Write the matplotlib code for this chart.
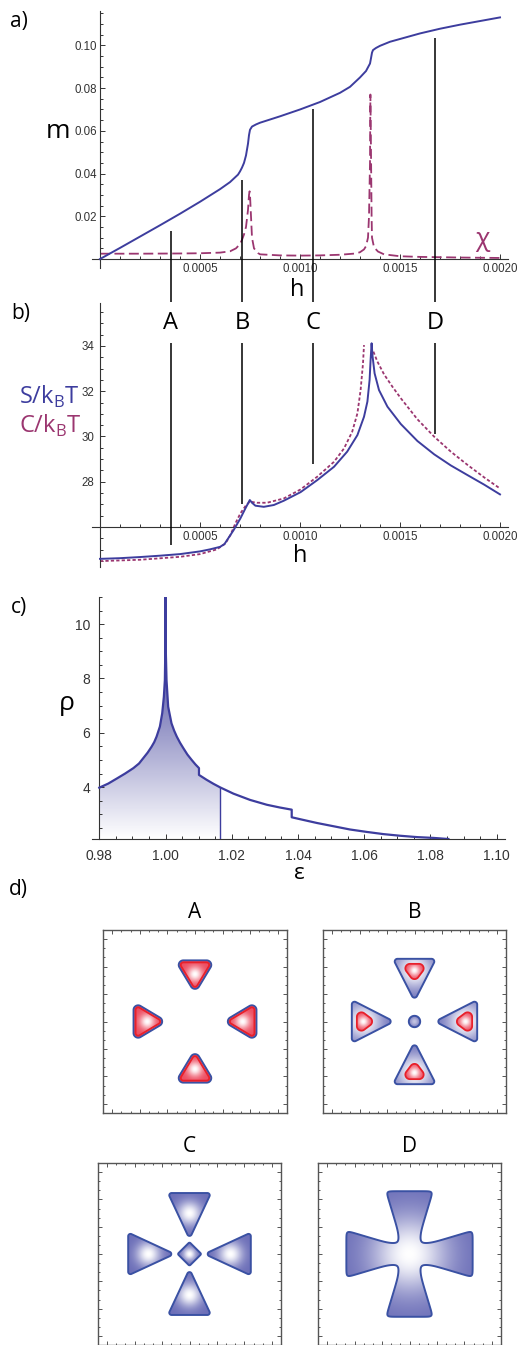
import numpy as np
import matplotlib
matplotlib.use("Agg")
from matplotlib import pyplot as plt
from matplotlib.ticker import MultipleLocator
from matplotlib.colors import LinearSegmentedColormap, Normalize

plt.rcParams['font.family'] = ['Liberation Sans', 'DejaVu Sans']
LABEL_FONT = ['Open Sans', 'DejaVu Sans']

# a) magnetisation m(h) and the susceptibility chi (drawn on the m scale)
h_m = [0, 0.0001, 0.0002, 0.0003, 0.0004, 0.0005, 0.0006, 0.00065, 0.00069,
       0.0007, 0.00071, 0.00072, 0.00073, 0.00074, 0.000745, 0.00075, 0.00076,
       0.00078, 0.0008, 0.0009, 0.001, 0.0011, 0.0012, 0.00125, 0.0013, 0.00133,
       0.00135, 0.001355, 0.00136, 0.001365, 0.00138, 0.0014, 0.00145, 0.0015,
       0.0016, 0.0017, 0.0018, 0.0019, 0.002]
m_vals = [0, 0.0052, 0.0105, 0.0158, 0.0212, 0.0268, 0.0327, 0.0360, 0.0395,
          0.0410, 0.0428, 0.0450, 0.0485, 0.0540, 0.0580, 0.0605, 0.0620,
          0.0630, 0.0638, 0.0668, 0.0700, 0.0735, 0.0778, 0.0806, 0.0850, 0.0880,
          0.0915, 0.0940, 0.0966, 0.0978, 0.0988, 0.0998, 0.1017, 0.1030,
          0.1056, 0.1078, 0.1097, 0.1114, 0.1131]
h_chi = [0, 0.0002, 0.0004, 0.0005, 0.0006, 0.00065, 0.00068, 0.0007,
         0.00071, 0.00072, 0.00073, 0.00074, 0.000745, 0.000748, 0.00075,
         0.000755, 0.00076, 0.00077, 0.00079, 0.0008,
         0.0009, 0.001, 0.0011, 0.0012, 0.00128, 0.0013,
         0.00132, 0.00133, 0.00134, 0.001345, 0.00135, 0.001352,
         0.001355, 0.001358, 0.00136, 0.00137, 0.00139, 0.00142,
         0.0015, 0.0016, 0.0018, 0.002]
chi_vals = [0.0025, 0.0025, 0.0026, 0.0027, 0.0030, 0.0036, 0.0050, 0.0070,
            0.0090, 0.0115, 0.0150, 0.0230, 0.0300, 0.0317, 0.0300,
            0.0200, 0.0100, 0.0050, 0.0028, 0.0022,
            0.0017, 0.0016, 0.0017, 0.0020, 0.0026, 0.0032,
            0.0045, 0.0060, 0.0100, 0.0200, 0.0450, 0.0770,
            0.0500, 0.0200, 0.0100, 0.0055, 0.0035, 0.0022,
            0.0013, 0.0010, 0.0007, 0.0005]
a_yticks = [0.02, 0.04, 0.06, 0.08, 0.10]
a_ylabels = ['0.02', '0.04', '0.06', '0.08', '0.10']
h_ticks = [0.0005, 0.001, 0.0015, 0.002]
h_labels = ['0.0005', '0.0010', '0.0015', '0.0020']

# b) S/kBT and C/kBT vs h
h_s = [0, 0.0001, 0.0002, 0.0003, 0.0004, 0.0005, 0.00055, 0.0006, 0.000622,
       0.000668, 0.000702, 0.000727, 0.000749, 0.00076, 0.000777, 0.000819,
       0.000869, 0.000919, 0.001003, 0.001086, 0.00117, 0.001236, 0.001287,
       0.00132, 0.001337, 0.001348, 0.001353, 0.001358, 0.001363, 0.001373,
       0.001395, 0.001437, 0.001504, 0.001587, 0.001671, 0.001754, 0.001838,
       0.001921, 0.002]
s_vals = [24.59, 24.62, 24.67, 24.73, 24.80, 24.92, 25.01, 25.12, 25.24,
          25.86, 26.38, 26.82, 27.19, 27.07, 26.94, 26.89,
          26.97, 27.16, 27.54, 28.07, 28.66, 29.33, 30.06,
          30.87, 31.54, 32.50, 33.38, 34.12, 33.53, 32.79,
          32.05, 31.32, 30.55, 29.80, 29.21, 28.72, 28.29,
          27.87, 27.44]
h_c = [0, 0.0002, 0.0004, 0.0005, 0.000585, 0.000627, 0.000652, 0.000677,
       0.000702, 0.000727, 0.000749, 0.000785, 0.000835, 0.000919, 0.001003,
       0.001086, 0.00117, 0.00122, 0.001261, 0.001287, 0.001303, 0.001315,
       0.00132, np.nan, 0.001367, 0.001387, 0.00142, 0.001462, 0.001504,
       0.001587, 0.001671, 0.001754, 0.001838, 0.001921, 0.002]
c_vals = [24.49, 24.55, 24.68, 24.80, 25.01, 25.27, 25.64, 26.16,
          26.60, 26.92, 27.12, 27.07, 27.07, 27.26, 27.66,
          28.22, 28.88, 29.47, 30.21, 31.02, 32.05, 33.23,
          34.04, np.nan, 33.75, 33.31, 32.75, 32.20, 31.69,
          30.76, 29.99, 29.33, 28.74, 28.19, 27.70]
b_yticks = [28, 30, 32, 34]

# marker lines A-D crossing panels a and b
mark_names = ['A', 'B', 'C', 'D']
mark_h = [0.000353, 0.00071, 0.001063, 0.001675]
mark_top_m = [0.0131, 0.0370, 0.0703, 0.1035]
mark_bottom_b = [25.20, 27.01, 28.78, 30.11]

# c) phase boundary rho(eps)
eps_edge = [0.98, 0.9827, 0.9852, 0.9878, 0.9903, 0.9920, 0.9933, 0.9946, 0.9958, 0.9966,
            0.9973, 0.9983, 0.9990, 0.9995, 0.9998, 0.99995, 1.0, 1.00005, 1.0003, 1.0008,
            1.0018, 1.0026, 1.0034, 1.0044, 1.0054, 1.0066, 1.0079, 1.0090, 1.0101, 1.0101,
            1.0124, 1.0145, 1.0165, 1.0205, 1.0255, 1.0306, 1.0345, 1.0381, 1.0381, 1.0406,
            1.0457, 1.0507, 1.0557, 1.0608, 1.0658, 1.0708, 1.0759, 1.0809, 1.0854]
rho_edge = [3.98, 4.13, 4.31, 4.50, 4.70, 4.87, 5.07, 5.27, 5.49, 5.66,
            5.86, 6.23, 6.72, 7.33, 7.94, 9.20, 11.0, 9.20, 7.94, 6.96,
            6.35, 6.08, 5.86, 5.63, 5.43, 5.20, 5.00, 4.84, 4.70, 4.45,
            4.27, 4.12, 3.99, 3.76, 3.53, 3.35, 3.25, 3.17, 2.89, 2.82,
            2.68, 2.56, 2.44, 2.35, 2.27, 2.21, 2.16, 2.13, 2.09]
eps_cut = 1.0165
rho_floor = 2.09
c_xticks = [0.98, 1.00, 1.02, 1.04, 1.06, 1.08, 1.10]
c_xlabels = ['0.98', '1.00', '1.02', '1.04', '1.06', '1.08', '1.10']
c_yticks = [4, 6, 8, 10]

# d) density maps: lobe = (tip, outer edge, half base, corner radius)
A_lobe = (0.31, 0.668, 0.215, 0.05)
A_spot = (0.52, 0.08)
B_lobe = (0.225, 0.685, 0.235, 0.03)
B_red_lobe = (0.43, 0.63, 0.15, 0.05)
B_dot = 0.062
B_spot = (0.56, 0.2)
B_red_spot = (0.56, 0.06)
C_lobe = (0.165, 0.67, 0.235, 0.025)
C_diamond = (0.13, 0.015)
C_spot = (0.45, 0.13)
D_cross = (0.115, 0.3, 0.22, 0.69)   # neck half-width, flare slope, flare start, arm end
D_sigma = 0.42

BLUE = '#3d3d9e'
PURPLE = '#9b3670'
AXC = '#333333'
OUTLINE = '#3a51a3'
RED = '#e8202a'
FILL_BLUE = np.array([0.42, 0.43, 0.72])
PINK = np.array([0.93, 0.30, 0.38])

W, H = 518, 1345
fig = plt.figure(figsize=(W / 100, H / 100), dpi=100)


def px_axes(x0, y0, x1, y1):
    return fig.add_axes([x0 / W, 1 - y1 / H, (x1 - x0) / W, (y1 - y0) / H])


def fxy(x, y):
    return x / W, 1 - y / H


def label(x, y, s, size, color='black', **kw):
    fig.text(*fxy(x, y), s, fontsize=size, color=color, family=LABEL_FONT,
             ha=kw.pop('ha', 'center'), va=kw.pop('va', 'center'), **kw)


def style_axes(ax, xcross, ycross, size, xpad, ypad):
    for side in ('top', 'right'):
        ax.spines[side].set_visible(False)
    ax.spines['left'].set_position(('data', xcross))
    ax.spines['bottom'].set_position(('data', ycross))
    for side in ('left', 'bottom'):
        ax.spines[side].set_color(AXC)
        ax.spines[side].set_linewidth(0.8)
    ax.patch.set_alpha(0)
    ax.tick_params(which='both', direction='in', color=AXC, labelcolor='#333333',
                   labelsize=size, width=0.7)
    ax.tick_params(which='major', length=3.5)
    ax.tick_params(which='minor', length=2)
    ax.tick_params(axis='x', pad=xpad)
    ax.tick_params(axis='y', pad=ypad)


# ---------------- a) ----------------
ax_a = px_axes(92, 11, 508, 268)
ax_a.plot(h_chi, chi_vals, color=PURPLE, lw=1.3, dashes=(5.5, 2.5), zorder=2)
ax_a.plot(h_m, m_vals, color=BLUE, lw=1.4, zorder=3)
ax_a.set_xlim(-0.00004, 0.00204)
ax_a.set_ylim(-0.0042, 0.1161)
style_axes(ax_a, 0, 0, 8.3, 3, 2)
ax_a.set_xticks(h_ticks, h_labels)
ax_a.set_yticks(a_yticks, a_ylabels)
ax_a.xaxis.set_minor_locator(MultipleLocator(0.0001))
ax_a.yaxis.set_minor_locator(MultipleLocator(0.005))
ax_a.vlines(mark_h, -0.0201, mark_top_m, color='black', lw=1.1, clip_on=False, zorder=4)

# ---------------- b) ----------------
ax_b = px_axes(92, 303, 508, 567)
ax_b.plot(h_c, c_vals, color=PURPLE, lw=1.3, dashes=(1.8, 1.2), zorder=2)
ax_b.plot(h_s, s_vals, color=BLUE, lw=1.4, zorder=3)
ax_b.set_xlim(-0.00004, 0.00204)
ax_b.set_ylim(24.23, 35.90)
style_axes(ax_b, 0, 26, 8.3, 3, 4)
ax_b.set_xticks(h_ticks, h_labels)
ax_b.set_yticks(b_yticks, [str(v) for v in b_yticks])
ax_b.xaxis.set_minor_locator(MultipleLocator(0.0001))
ax_b.yaxis.set_minor_locator(MultipleLocator(0.5))
ax_b.vlines(mark_h, mark_bottom_b, 34.13, color='black', lw=1.1, zorder=4)
for name, hx in zip(mark_names, mark_h):
    ax_b.text(hx, 35.02, name, fontsize=17, family=LABEL_FONT, ha='center', va='center')

# ---------------- c) ----------------
ax_c = px_axes(92, 597, 505, 839)
ax_c.set_xlim(0.9778, 1.1025)
ax_c.set_ylim(rho_floor, 11.0)
n_fill = eps_edge.index(eps_cut) + 1
shade = ax_c.fill_between(eps_edge[:n_fill], rho_edge[:n_fill], rho_floor,
                          facecolor='none', edgecolor='none')
grad = np.linspace(rho_floor, 11.0, 300).reshape(-1, 1)
cmap = LinearSegmentedColormap.from_list('shade', ['#ffffff', '#5c5ca9'])
img = ax_c.imshow(grad, extent=(0.98, eps_cut, rho_floor, 11.0), origin='lower',
                  aspect='auto', cmap=cmap, norm=Normalize(rho_floor, 8.5), zorder=1)
img.set_clip_path(shade.get_paths()[0], transform=ax_c.transData)
ax_c.plot(eps_edge, rho_edge, color=BLUE, lw=1.6, zorder=3)
ax_c.vlines(eps_cut, rho_floor, rho_edge[n_fill - 1], color=BLUE, lw=1.0, zorder=3)
style_axes(ax_c, 0.98, rho_floor, 10, 7, 6.5)
ax_c.set_xticks(c_xticks, c_xlabels)
ax_c.set_yticks(c_yticks, [str(v) for v in c_yticks])
ax_c.xaxis.set_minor_locator(MultipleLocator(0.005))
ax_c.yaxis.set_minor_locator(MultipleLocator(0.5))
ax_c.set_xlim(0.9778, 1.1025)
ax_c.set_ylim(rho_floor, 11.0)

# ---------------- d) ----------------
N = 361
grid = np.linspace(-1, 1, N)
X, Y = np.meshgrid(grid, grid)
R = np.hypot(X, Y)
DX = grid[1] - grid[0]
ARMS = ((1, 0), (0, 1), (-1, 0), (0, -1))


def smin(vals, k):
    v = np.stack(vals)
    lo = v.min(axis=0)
    return lo - k * np.log(np.exp(-(v - lo) / k).sum(axis=0))


def poly_sdf(verts):
    # signed distance to a convex polygon (negative inside)
    dmin = np.full(X.shape, np.inf)
    pos = np.ones(X.shape, bool)
    neg = np.ones(X.shape, bool)
    for i in range(len(verts)):
        ax_, ay_ = verts[i]
        bx_, by_ = verts[(i + 1) % len(verts)]
        vx, vy = bx_ - ax_, by_ - ay_
        u = np.clip(((X - ax_) * vx + (Y - ay_) * vy) / (vx * vx + vy * vy), 0, 1)
        dmin = np.minimum(dmin, np.hypot(X - ax_ - u * vx, Y - ay_ - u * vy))
        cr = vx * (Y - ay_) - vy * (X - ax_)
        pos &= cr >= 0
        neg &= cr <= 0
    return np.where(pos | neg, -dmin, dmin)


def lobes(tip, out, half, r):
    # rounded triangles pointing to the centre, one on each axis
    m = half / (out - tip)
    n = np.hypot(1.0, m)
    tip2 = tip + r * n / m
    out2 = out - r
    half2 = m * (out2 - tip2)
    fields = []
    for dx, dy in ARMS:
        core = [(s * dx - t * dy, s * dy + t * dx)
                for s, t in ((tip2, 0.0), (out2, half2), (out2, -half2))]
        fields.append(r - poly_sdf(core))
    return np.max(fields, axis=0)


def spots(radius, sigma):
    return np.max([np.exp(-((X - radius * dx) ** 2 + (Y - radius * dy) ** 2) / sigma ** 2)
                   for dx, dy in ARMS], axis=0)


def diamond(a, r):
    a2 = a - r * np.sqrt(2)
    return r - poly_sdf([(a2, 0), (0, a2), (-a2, 0), (0, -a2)])


def cross(w0, slope, s0, out, k):
    def bar(s, t):
        w = w0 + slope * 0.04 * np.log1p(np.exp((s - s0) / 0.04))
        return smin([out - s, w - t], k)
    ax_, ay_ = np.abs(X), np.abs(Y)
    return -smin([-bar(ax_, ay_), -bar(ay_, ax_)], 0.025)


def render(ax, F, I, base, red=None, I_red=None):
    I = np.clip(I, 0, 1)[..., None]
    alpha = np.clip(F / DX + 0.5, 0, 1)
    rgb = base * (1 - I) + I
    if red is not None:
        ar = np.clip(red / DX + 0.5, 0, 1)[..., None]
        Ir = np.clip(I_red, 0, 1)[..., None]
        rgb = rgb * (1 - ar) + (PINK * (1 - Ir) + Ir) * ar
    ax.imshow(np.dstack([rgb, alpha]), extent=(-1, 1, -1, 1), origin='lower',
              interpolation='bilinear', zorder=1)
    ax.contour(X, Y, F, levels=[0], colors=OUTLINE, linewidths=1.4, zorder=3)
    if red is not None:
        ax.contour(X, Y, red, levels=[0], colors=RED, linewidths=1.3, zorder=4)
    ax.set_xlim(-1, 1)
    ax.set_ylim(-1, 1)
    ax.set_aspect('auto')
    for sp in ax.spines.values():
        sp.set_color('#555555')
        sp.set_linewidth(1.0)
    ax.xaxis.set_major_locator(MultipleLocator(0.3))
    ax.yaxis.set_major_locator(MultipleLocator(0.3))
    ax.xaxis.set_minor_locator(MultipleLocator(0.1))
    ax.yaxis.set_minor_locator(MultipleLocator(0.1))
    ax.tick_params(which='both', direction='in', top=True, right=True, color='#555555',
                   labelbottom=False, labelleft=False, width=0.7)
    ax.tick_params(which='major', length=3)
    ax.tick_params(which='minor', length=1.5)


ax_dA = px_axes(103, 930, 287, 1113)
FA = lobes(*A_lobe)
IA = spots(*A_spot)
render(ax_dA, FA, IA, PINK, red=FA - 0.022, I_red=IA)

ax_dB = px_axes(323, 930, 506, 1113)
FB = np.maximum(lobes(*B_lobe), B_dot - R)
IB = spots(*B_spot) + 0.6 * np.exp(-R ** 2 / 0.05 ** 2)
render(ax_dB, FB, IB, FILL_BLUE, red=lobes(*B_red_lobe), I_red=spots(*B_red_spot))

ax_dC = px_axes(98, 1163, 281, 1345)
FC = np.maximum(lobes(*C_lobe), diamond(*C_diamond))
IC = spots(*C_spot) + np.exp(-R ** 2 / 0.07 ** 2)
render(ax_dC, FC, IC, FILL_BLUE)

ax_dD = px_axes(318, 1163, 501, 1345)
FD = cross(*D_cross, 0.02)
ID = np.exp(-R ** 2 / D_sigma ** 2)
render(ax_dD, FD, ID, FILL_BLUE)

for ax, name in ((ax_dA, 'A'), (ax_dB, 'B'), (ax_dC, 'C'), (ax_dD, 'D')):
    ax.text(0.5, 1.0 + 17 / 183, name, transform=ax.transAxes, fontsize=15,
            family=LABEL_FONT, ha='center', va='center')

# ---------------- labels ----------------
label(19, 21, 'a)', 15)
label(21, 313, 'b)', 15)
label(19, 607, 'c)', 15)
label(18, 890, 'd)', 15)
label(58, 131, 'm', 19)
label(482, 239, 'χ', 19, color=PURPLE)
label(297, 290, 'h', 17)
label(300, 556, 'h', 17)
label(19, 404, r'S/k$_\mathregular{B}$T', 17, color=BLUE, ha='left', va='baseline')
label(19, 433, r'C/k$_\mathregular{B}$T', 17, color=PURPLE, ha='left', va='baseline')
label(67, 703, 'ρ', 19)
label(299, 879, 'ε', 16, va='baseline')

fig.savefig('out.png', dpi=100)
